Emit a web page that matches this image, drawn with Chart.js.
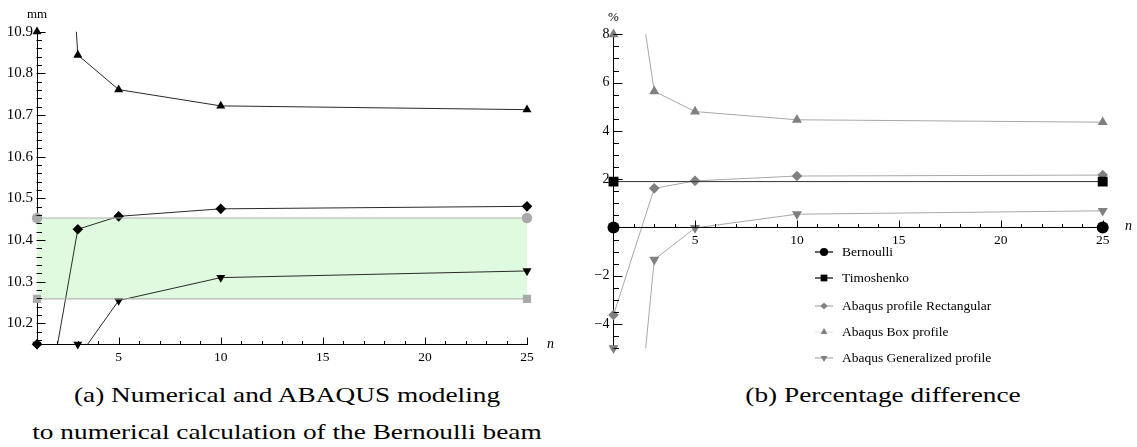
<!DOCTYPE html>
<html>
<head>
<meta charset="utf-8">
<script src="https://cdn.jsdelivr.net/npm/chart.js@4.4.0/dist/chart.umd.min.js"></script>
<style>
  body { margin: 0; background: #fff; }
  #page { position: relative; width: 1137px; height: 447px; font-family: "Liberation Serif", "Times New Roman", serif; color: #000; overflow: hidden; }
  canvas { position: absolute; top: 0; }
  #chartA { left: 0; }
  #chartB { left: 565px; }
  .lbl { position: absolute; white-space: nowrap; line-height: 1; }
  .cap { position: absolute; white-space: nowrap; line-height: 1; font-size: 21px; transform: translate(-50%, -50%) scaleX(1.3); }
  .row { position: absolute; left: 815px; height: 14px; display: flex; align-items: center; font-size: 13.5px; white-space: nowrap; }
  .row svg { margin-right: 9px; }
</style>
</head>
<body>
<div id="page">
  <canvas id="chartA" width="565" height="370"></canvas>
  <canvas id="chartB" width="572" height="370"></canvas>

  <span class="lbl" style="left:27px; top:7px; font-size:13px;">mm</span>
  <span class="lbl" style="left:547px; top:337px; font-size:14px; font-style:italic;">n</span>
  <span class="lbl" style="left:608px; top:10px; font-size:13px;">%</span>
  <span class="lbl" style="left:1125px; top:219px; font-size:14px; font-style:italic;">n</span>

  <div id="legendB"></div>

  <span class="cap" style="left:287px; top:395px;">(a) Numerical and ABAQUS modeling</span>
  <span class="cap" style="left:287px; top:432px;">to numerical calculation of the Bernoulli beam</span>
  <span class="cap" style="left:883px; top:395px;">(b) Percentage difference</span>
</div>

<script>
// DATA
const nValues = [1, 3, 5, 10, 25];
const nEnds = [1, 25];
const nTicks = [5, 10, 15, 20, 25];

// (a) displacement, mm
const mmBernoulli = [10.453, 10.453];
const mmTimoshenko = [10.259, 10.259];
const mmRect = [9.87, 10.426, 10.457, 10.475, 10.481];
const mmBox = [12.4, 10.844, 10.761, 10.722, 10.713];
const mmGen = [9.6, 10.117, 10.255, 10.31, 10.326];
const mmTicks = [10.2, 10.3, 10.4, 10.5, 10.6, 10.7, 10.8, 10.9];

// (b) percentage difference
const pctBernoulli = [0, 0];
const pctTimoshenko = [1.9, 1.9];
const pctRect = [-3.62, 1.62, 1.93, 2.13, 2.17];
const pctBox = [16.9, 5.64, 4.8, 4.46, 4.36];
const pctGen = [-18.8, -1.33, -0.02, 0.55, 0.69];
const pctTicks = [-4, -2, 2, 4, 6, 8];

const seriesNames = [
  "Bernoulli",
  "Timoshenko",
  "Abaqus profile Rectangular",
  "Abaqus Box profile",
  "Abaqus Generalized profile",
];

//STYLES
const serif = "'Liberation Serif', 'Times New Roman', serif";

const stylesA = {
  bern: { shape: "circle", r: 5.2, mark: "#a9a9a9", line: "#b4b4b4", lw: 1.2 },
  timo: { shape: "rect", r: 5.8, mark: "#a9a9a9", line: "#b4b4b4", lw: 1.2 },
  rect: { shape: "rectRot", r: 5.3, mark: "#000", line: "#2a2a2a" },
  box: { shape: "triangle", r: 5.2, mark: "#000", line: "#2a2a2a" },
  gen: { shape: "triangle", rot: 180, r: 5.2, mark: "#000", line: "#2a2a2a" },
};

const stylesB = [
  { shape: "circle", r: 6, mark: "#000", line: "#000", legendLine: "#000" },
  { shape: "rect", r: 7, mark: "#000", line: "#333", legendLine: "#000" },
  { shape: "rectRot", r: 5.3, mark: "#808080", line: "#a8a8a8", legendLine: "#a8a8a8" },
  { shape: "triangle", r: 5.8, mark: "#808080", line: "#a8a8a8", legendLine: "#e6e6e6" },
  { shape: "triangle", rot: 180, r: 5.8, mark: "#808080", line: "#a8a8a8", legendLine: "#a8a8a8" },
];

//HELPERS
function pts(xs, ys) {
  return xs.map((x, i) => ({ x: x, y: ys[i] }));
}

function series(xs, ys, st, extra) {
  return Object.assign(
    {
      data: pts(xs, ys),
      showLine: true,
      borderColor: st.line,
      borderWidth: st.lw || 1,
      pointStyle: st.shape,
      rotation: st.rot || 0,
      pointRadius: st.r,
      pointBackgroundColor: st.mark,
      pointBorderColor: st.mark,
      pointBorderWidth: 0,
      fill: false,
      clip: { left: 10, right: 10, top: 0, bottom: 0 },
    },
    extra || {}
  );
}

// points outside the plot range keep their marker on the edge of the frame
function edgeMarks(xs, ys, lo, hi, st) {
  const data = pts(xs, ys)
    .filter((p) => p.y < lo || p.y > hi)
    .map((p) => ({ x: p.x, y: Math.min(hi, Math.max(lo, p.y)) }));
  return {
    data: data,
    showLine: false,
    pointStyle: st.shape,
    rotation: st.rot || 0,
    pointRadius: st.r,
    pointBackgroundColor: st.mark,
    pointBorderColor: st.mark,
    pointBorderWidth: 0,
    clip: false,
  };
}

function minus(v) {
  return v < 0 ? "\u2212" + Math.abs(v) : String(v);
}

function xScale(position, fontSize) {
  return {
    type: "linear",
    position: position,
    min: 1,
    max: 25,
    afterBuildTicks: (s) => {
      s.ticks = nTicks.map((v) => ({ value: v }));
    },
    grid: { display: false, drawTicks: false },
    border: { display: true, color: "#000", width: 1 },
    ticks: { color: "#000", font: { family: serif, size: fontSize }, padding: 5, maxRotation: 0, autoSkip: false },
  };
}

function yScale(min, max, tickList, width, fontSize) {
  return {
    type: "linear",
    position: "left",
    min: min,
    max: max,
    afterBuildTicks: (s) => {
      s.ticks = tickList.map((v) => ({ value: v }));
    },
    afterFit: (s) => {
      s.width = width;
    },
    grid: { display: false, drawTicks: false },
    border: { display: true, color: "#000", width: 1 },
    ticks: {
      color: "#000",
      font: { family: serif, size: fontSize },
      padding: 4,
      autoSkip: false,
      callback: (v) => minus(Math.round(v * 100) / 100),
    },
  };
}

// MATHEMATICA STYLE TICKS (INSIDE THE FRAME)
const insideTicks = {
  id: "insideTicks",
  afterDraw(chart, args, o) {
    const ctx = chart.ctx;
    const xs = chart.scales.x;
    const ys = chart.scales.y;
    const yOfXAxis = Math.round(ys.getPixelForValue(o.xAxisAt)) + 0.5;
    const xOfYAxis = Math.round(xs.getPixelForValue(xs.min)) + 0.5;
    const isMajor = (v, step) => Math.abs(v / step - Math.round(v / step)) < 1e-6;
    ctx.save();
    ctx.strokeStyle = "#000";
    ctx.lineWidth = 1;
    ctx.beginPath();
    for (let k = Math.ceil(xs.min / o.xMinor - 1e-6); k * o.xMinor <= xs.max + 1e-6; k++) {
      const v = k * o.xMinor;
      const px = Math.round(xs.getPixelForValue(v)) + 0.5;
      const len = isMajor(v, o.xMajor) ? 7 : 3.5;
      ctx.moveTo(px, yOfXAxis);
      ctx.lineTo(px, yOfXAxis - len);
    }
    for (let k = Math.ceil(ys.min / o.yMinor - 1e-6); k * o.yMinor <= ys.max + 1e-6; k++) {
      const v = k * o.yMinor;
      const py = Math.round(ys.getPixelForValue(v)) + 0.5;
      const len = isMajor(v, o.yMajor) ? 8 : 4.5;
      ctx.moveTo(xOfYAxis - 1, py);
      ctx.lineTo(xOfYAxis + len, py);
    }
    ctx.stroke();
    ctx.restore();
  },
};

const baseOptions = {
  responsive: false,
  animation: false,
  events: [],
  devicePixelRatio: 1,
};

//CHART (a)
const chartA = new Chart(document.getElementById("chartA"), {
  type: "scatter",
  data: {
    datasets: [
      series(nEnds, mmBernoulli, stylesA.bern, {
        fill: { target: 1 },
        backgroundColor: "rgba(223, 250, 223, 1)",
      }),
      series(nEnds, mmTimoshenko, stylesA.timo),
      series(nValues, mmRect, stylesA.rect),
      series(nValues, mmBox, stylesA.box),
      series(nValues, mmGen, stylesA.gen),
      edgeMarks(nValues, mmRect, 10.15, 10.9, stylesA.rect),
      edgeMarks(nValues, mmBox, 10.15, 10.9, stylesA.box),
      edgeMarks(nValues, mmGen, 10.15, 10.9, stylesA.gen),
    ],
  },
  options: Object.assign({}, baseOptions, {
    layout: { padding: { left: 0, top: 31.7, right: 38, bottom: 0 } },
    scales: {
      x: Object.assign(xScale("bottom", 13.5), { afterFit: (s) => { s.height = 25.7; } }),
      y: yScale(10.15, 10.9, mmTicks, 37, 15),
    },
    plugins: {
      legend: { display: false },
      tooltip: { enabled: false },
      filler: { drawTime: "beforeDatasetsDraw" },
      insideTicks: { xAxisAt: 10.15, xMinor: 1, xMajor: 5, yMinor: 0.02, yMajor: 0.1 },
    },
  }),
  plugins: [insideTicks],
});

//CHART (b)
const pctSeries = [pctBernoulli, pctTimoshenko, pctRect, pctBox, pctGen];
const pctX = [nEnds, nEnds, nValues, nValues, nValues];

const chartB = new Chart(document.getElementById("chartB"), {
  type: "scatter",
  data: {
    datasets: pctSeries
      .map((ys, i) => series(pctX[i], ys, stylesB[i]))
      .concat(pctSeries.map((ys, i) => edgeMarks(pctX[i], ys, -5, 8, stylesB[i]))),
  },
  options: Object.assign({}, baseOptions, {
    layout: { padding: { left: 0, top: 34.3, right: 34.3, bottom: 21.8 } },
    scales: {
      x: xScale({ y: 0 }, 13.5),
      y: yScale(-5, 8, pctTicks, 48.5, 14),
    },
    plugins: {
      legend: { display: false },
      tooltip: { enabled: false },
      insideTicks: { xAxisAt: 0, xMinor: 1, xMajor: 5, yMinor: 0.5, yMajor: 2 },
    },
  }),
  plugins: [insideTicks],
});

//HTML LEGEND FOR (b)
function symbolSvg(st) {
  const cx = 9, cy = 6, r = st.r * 0.68;
  let shape = "";
  if (st.shape === "circle") {
    shape = `<circle cx="${cx}" cy="${cy}" r="${r}" fill="${st.mark}"/>`;
  } else if (st.shape === "rect") {
    const h = r * Math.SQRT1_2;
    shape = `<rect x="${cx - h}" y="${cy - h}" width="${2 * h}" height="${2 * h}" fill="${st.mark}"/>`;
  } else if (st.shape === "rectRot") {
    shape = `<polygon points="${cx},${cy - r} ${cx + r},${cy} ${cx},${cy + r} ${cx - r},${cy}" fill="${st.mark}"/>`;
  } else {
    const s = st.rot ? -1 : 1;
    const dx = r * Math.sqrt(3) / 2;
    shape = `<polygon points="${cx},${cy - s * r} ${cx + dx},${cy + s * r / 2} ${cx - dx},${cy + s * r / 2}" fill="${st.mark}"/>`;
  }
  return `<svg width="18" height="12" viewBox="0 0 18 12"><line x1="0" y1="6" x2="18" y2="6" stroke="${st.legendLine}" stroke-width="1.2"/>${shape}</svg>`;
}

const legendRowsY = [252.3, 278.3, 305.7, 331.7, 358.3];
document.getElementById("legendB").innerHTML = seriesNames
  .map((name, i) => `<div class="row" style="top:${legendRowsY[i] - 7}px">${symbolSvg(stylesB[i])}<span>${name}</span></div>`)
  .join("");
</script>
</body>
</html>
